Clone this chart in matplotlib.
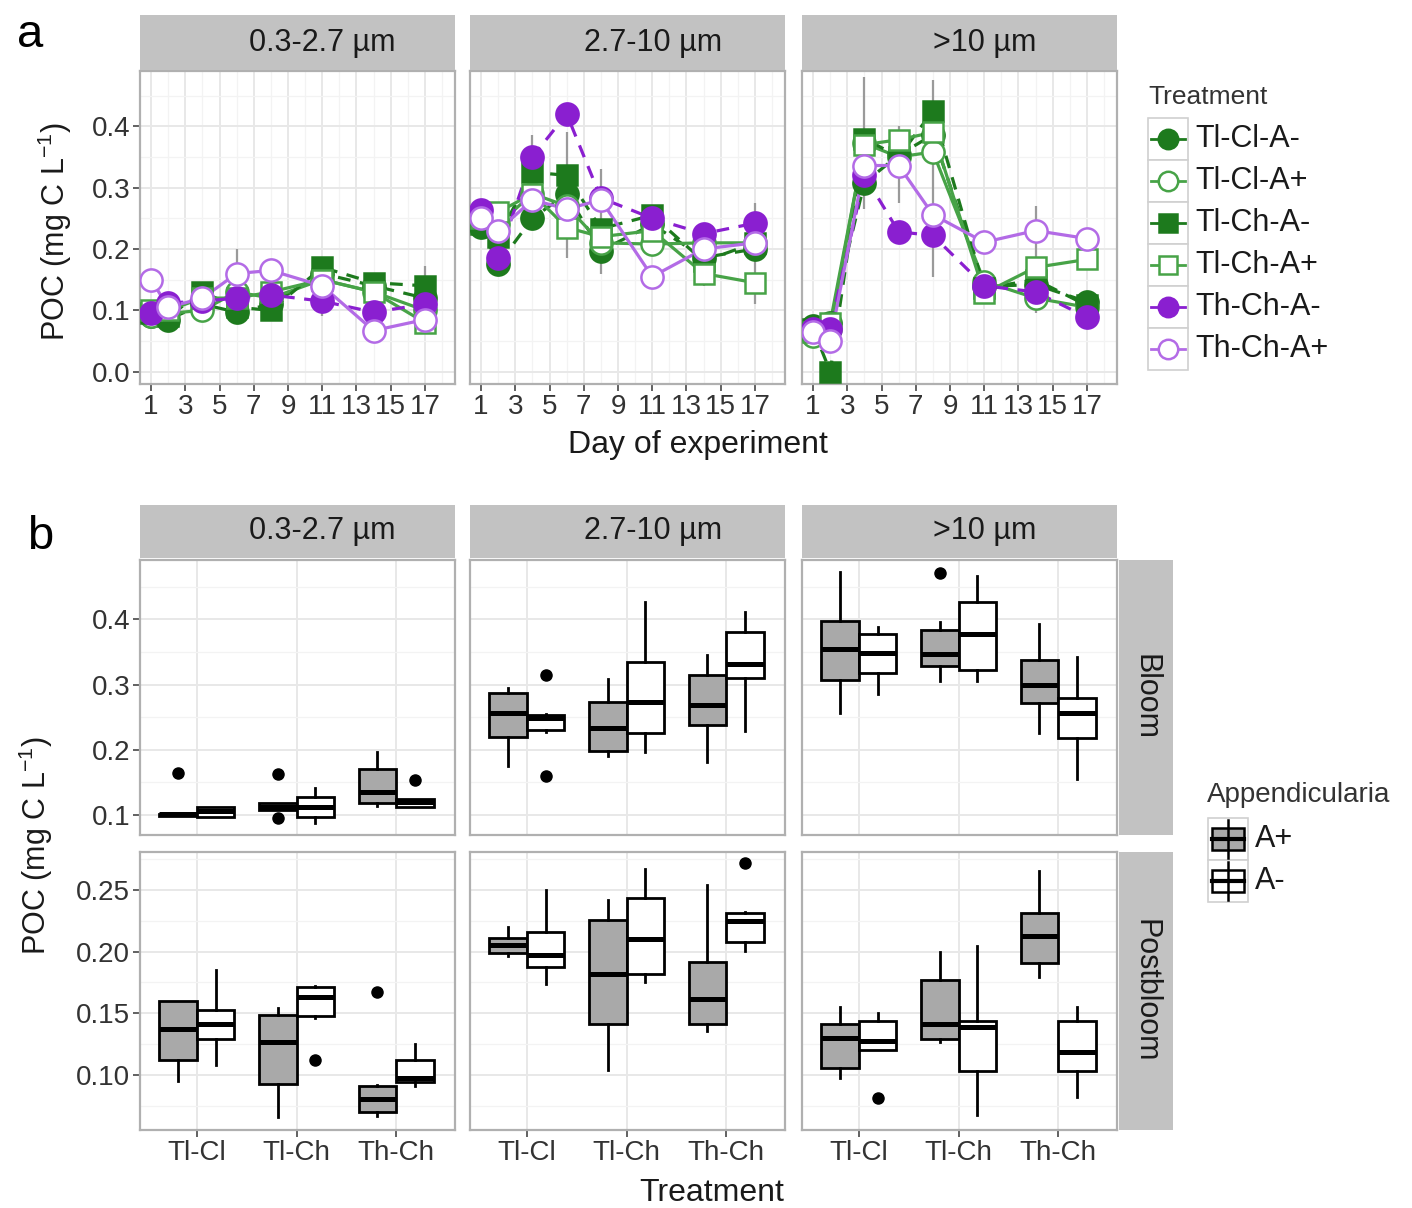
import matplotlib
matplotlib.use("Agg")
import matplotlib.pyplot as plt
from matplotlib.lines import Line2D
from matplotlib.patches import Rectangle

plt.rcParams["font.family"] = ["Liberation Sans", "DejaVu Sans"]

W, H = 1412, 1208

# ---- data -------------------------------------------------------------
SIZES = ["0.3-2.7 µm", "2.7-10 µm", ">10 µm"]
DAYS = [1, 2, 4, 6, 8, 11, 14, 17]
TREATMENTS = ["Tl-Cl-A-", "Tl-Cl-A+", "Tl-Ch-A-", "Tl-Ch-A+", "Th-Ch-A-", "Th-Ch-A+"]

# panel a: mean POC (mg C/L) by day, one dict per size fraction
POC_SMALL = {
    "Tl-Cl-A-": [0.090, 0.085, 0.110, 0.097, 0.110, 0.160, 0.140, 0.120],
    "Tl-Cl-A+": [0.090, 0.095, 0.100, 0.130, 0.120, 0.150, 0.130, 0.100],
    "Tl-Ch-A-": [0.095, 0.090, 0.130, 0.105, 0.100, 0.170, 0.145, 0.140],
    "Tl-Ch-A+": [0.100, 0.100, 0.120, 0.120, 0.130, 0.150, 0.130, 0.080],
    "Th-Ch-A-": [0.095, 0.112, 0.115, 0.120, 0.125, 0.115, 0.097, 0.110],
    "Th-Ch-A+": [0.150, 0.105, 0.120, 0.160, 0.165, 0.140, 0.067, 0.085],
}
POC_MID = {
    "Tl-Cl-A-": [0.236, 0.175, 0.250, 0.290, 0.197, 0.240, 0.186, 0.200],
    "Tl-Cl-A+": [0.250, 0.240, 0.290, 0.270, 0.210, 0.208, 0.210, 0.210],
    "Tl-Ch-A-": [0.240, 0.220, 0.325, 0.320, 0.233, 0.255, 0.180, 0.210],
    "Tl-Ch-A+": [0.250, 0.260, 0.290, 0.235, 0.220, 0.230, 0.160, 0.145],
    "Th-Ch-A-": [0.264, 0.186, 0.350, 0.420, 0.283, 0.250, 0.225, 0.242],
    "Th-Ch-A+": [0.250, 0.230, 0.280, 0.265, 0.280, 0.155, 0.200, 0.210],
}
POC_LARGE = {
    "Tl-Cl-A-": [0.075, 0.080, 0.308, 0.353, 0.386, 0.139, 0.142, 0.114],
    "Tl-Cl-A+": [0.058, 0.070, 0.372, 0.350, 0.358, 0.147, 0.120, 0.105],
    "Tl-Ch-A-": [0.070, 0.000, 0.380, 0.350, 0.425, 0.136, 0.150, 0.108],
    "Tl-Ch-A+": [0.065, 0.080, 0.370, 0.378, 0.390, 0.128, 0.170, 0.183],
    "Th-Ch-A-": [0.070, 0.070, 0.320, 0.228, 0.222, 0.140, 0.130, 0.089],
    "Th-Ch-A+": [0.065, 0.050, 0.336, 0.336, 0.256, 0.211, 0.230, 0.217],
}
# visible error bars: (facet, day, low, high)
ERRBARS_A = [
    (0, 6, 0.13, 0.20), (0, 11, 0.09, 0.13), (0, 17, 0.10, 0.172),
    (1, 4, 0.285, 0.385), (1, 6, 0.185, 0.39), (1, 8, 0.16, 0.33),
    (1, 14, 0.14, 0.17), (1, 17, 0.11, 0.275),
    (2, 4, 0.265, 0.48), (2, 6, 0.275, 0.40), (2, 8, 0.155, 0.475), (2, 14, 0.095, 0.27),
]

# panel b: boxplot stats, [row][size][box]; boxes ordered
# Tl-Cl A+, Tl-Cl A-, Tl-Ch A+, Tl-Ch A-, Th-Ch A+, Th-Ch A-
PHASES = ["Bloom", "Postbloom"]
GROUPS = ["Tl-Cl", "Tl-Ch", "Th-Ch"]
APPS = ["A+", "A-"]
MED = [
    [[0.101, 0.106, 0.113, 0.113, 0.136, 0.120],
     [0.257, 0.248, 0.233, 0.274, 0.268, 0.331],
     [0.355, 0.348, 0.347, 0.377, 0.300, 0.257]],
    [[0.137, 0.1415, 0.127, 0.163, 0.081, 0.0975],
     [0.205, 0.197, 0.182, 0.210, 0.162, 0.225],
     [0.130, 0.1274, 0.1415, 0.139, 0.2128, 0.1187]],
]
Q1 = [
    [[0.099, 0.097, 0.108, 0.097, 0.119, 0.113],
     [0.220, 0.230, 0.198, 0.226, 0.238, 0.310],
     [0.307, 0.317, 0.328, 0.323, 0.271, 0.218]],
    [[0.1125, 0.129, 0.093, 0.148, 0.070, 0.094],
     [0.199, 0.1876, 0.1415, 0.1816, 0.141, 0.2074],
     [0.106, 0.1206, 0.1296, 0.103, 0.1906, 0.103]],
]
Q3 = [
    [[0.102, 0.113, 0.118, 0.128, 0.170, 0.125],
     [0.287, 0.253, 0.274, 0.335, 0.315, 0.381],
     [0.397, 0.378, 0.383, 0.426, 0.338, 0.279]],
    [[0.160, 0.153, 0.149, 0.171, 0.091, 0.112],
     [0.211, 0.216, 0.2256, 0.2435, 0.1917, 0.231],
     [0.1415, 0.1437, 0.1768, 0.1437, 0.2313, 0.144]],
]
WLO = [
    [[0.099, 0.097, 0.108, 0.087, 0.114, 0.113],
     [0.175, 0.228, 0.190, 0.197, 0.181, 0.229],
     [0.257, 0.285, 0.305, 0.306, 0.225, 0.155]],
    [[0.095, 0.108, 0.066, 0.146, 0.067, 0.091],
     [0.1966, 0.174, 0.104, 0.175, 0.136, 0.2006],
     [0.0976, 0.1206, 0.1268, 0.0677, 0.1795, 0.0826]],
]
WHI = [
    [[0.102, 0.113, 0.118, 0.142, 0.197, 0.125],
     [0.295, 0.255, 0.308, 0.426, 0.346, 0.412],
     [0.473, 0.389, 0.396, 0.466, 0.393, 0.342]],
    [[0.160, 0.185, 0.154, 0.172, 0.092, 0.125],
     [0.220, 0.250, 0.242, 0.2666, 0.254, 0.232],
     [0.155, 0.150, 0.200, 0.2047, 0.265, 0.155]],
]
FLIERS = [
    [[[0.165], [], [0.163, 0.095], [], [], [0.153]],
     [[], [0.315, 0.160], [], [], [], []],
     [[], [], [0.471], [], [], []]],
    [[[], [], [], [0.1125], [0.1675], []],
     [[], [], [], [], [], [0.2717]],
     [[], [0.0818], [], [], [], []]],
]

# ---- styling ----------------------------------------------------------
GREEN, GREEN_L = "#1d7a1d", "#47a347"
PURPLE, PURPLE_L = "#8a1fd0", "#b36be6"
T_COLOR = [GREEN, GREEN_L, GREEN, GREEN_L, PURPLE, PURPLE_L]
T_MARKER = ["o", "o", "s", "s", "o", "o"]
T_FILLED = [True, False, True, False, True, False]
T_DASHED = [True, False, True, False, True, False]
STRIP = "#c2c2c2"
TXT = "#333333"
BOX_GREY = "#a9a9a9"

FACET_X = [(140, 455), (470, 785), (802, 1117)]


def px_rect(x0, y0, x1, y1):
    return [x0 / W, 1 - y1 / H, (x1 - x0) / W, (y1 - y0) / H]


def style_panel(ax):
    for s in ax.spines.values():
        s.set_color("#b0b0b0")
        s.set_linewidth(1.6)
    ax.grid(which="major", color="#e8e8e8", lw=1.4)
    ax.grid(which="minor", color="#f3f3f3", lw=0.9)
    ax.set_axisbelow(True)
    ax.tick_params(which="major", length=5, width=1.3, color="#555555",
                   labelsize=20, labelcolor=TXT, pad=2)
    ax.tick_params(which="minor", length=0)


def strip(rect, label, rotation=0):
    sa = fig.add_axes(rect)
    sa.set_facecolor(STRIP)
    sa.set_xticks([]); sa.set_yticks([])
    for s in sa.spines.values():
        s.set_visible(False)
    xpos = 0.58 if rotation == 0 else 0.5
    sa.text(xpos, 0.5, label, ha="center", va="center", fontsize=22,
            color="#1a1a1a", rotation=rotation, transform=sa.transAxes)


fig = plt.figure(figsize=(W / 100, H / 100), dpi=100)

# ---- panel a ----------------------------------------------------------
series_a = [POC_SMALL, POC_MID, POC_LARGE]
for k, (x0, x1) in enumerate(FACET_X):
    ax = fig.add_axes(px_rect(x0, 71, x1, 384))
    style_panel(ax)
    for f, day, lo, hi in ERRBARS_A:
        if f == k:
            ax.vlines(day, lo, hi, color="#9a9a9a", lw=1.6, zorder=2)
    data = series_a[k]
    for i, t in enumerate(TREATMENTS):
        ax.plot(DAYS, data[t], color=T_COLOR[i], lw=2.3, zorder=3,
                ls=(0, (4, 3)) if T_DASHED[i] else "-")
    for i, t in enumerate(TREATMENTS):
        ax.plot(DAYS, data[t], ls="none", marker=T_MARKER[i],
                ms=16 if T_MARKER[i] == "o" else 14.5,
                mfc=T_COLOR[i] if T_FILLED[i] else "white",
                mec=T_COLOR[i], mew=1.8, zorder=4)
    ax.set_xlim(0.35, 18.76)
    ax.set_ylim(-0.02, 0.49)
    ax.set_xticks(range(1, 18, 2))
    ax.set_xticks(range(2, 19, 2), minor=True)
    ax.set_yticks([0.0, 0.1, 0.2, 0.3, 0.4])
    ax.set_yticks([0.05, 0.15, 0.25, 0.35, 0.45], minor=True)
    if k == 0:
        ax.set_yticklabels(["0.0", "0.1", "0.2", "0.3", "0.4"])
    else:
        ax.tick_params(axis="y", which="both", left=False, labelleft=False)
    strip(px_rect(x0, 15, x1, 70), SIZES[k])

fig.text(698 / W, 1 - 445 / H, "Day of experiment", ha="center", va="center",
         fontsize=23, color="#1a1a1a")
fig.text(55 / W, 1 - 232 / H, r"POC (mg C L$^{\mathregular{-1}}$)", ha="center",
         va="center", rotation=90, fontsize=22, color="#1a1a1a")
fig.text(30 / W, 1 - 35 / H, "a", ha="center", va="center", fontsize=34)

# ---- panel b ----------------------------------------------------------
ROW_Y = [(560, 835), (852, 1130)]
ROW_LIM = [(0.0693, 0.491), (0.0555, 0.2807)]
ROW_TICKS = [[0.1, 0.2, 0.3, 0.4], [0.10, 0.15, 0.20, 0.25]]
ROW_MINOR = [[0.15, 0.25, 0.35, 0.45], [0.075, 0.125, 0.175, 0.225, 0.275]]
ROW_FMT = ["{:.1f}", "{:.2f}"]
positions = [c + off for c in (1, 2, 3) for off in (-0.1875, 0.1875)]

for r, (y0, y1) in enumerate(ROW_Y):
    for k, (x0, x1) in enumerate(FACET_X):
        ax = fig.add_axes(px_rect(x0, y0, x1, y1))
        style_panel(ax)
        stats = []
        for i in range(6):
            stats.append(dict(med=MED[r][k][i], q1=Q1[r][k][i], q3=Q3[r][k][i],
                              whislo=WLO[r][k][i], whishi=WHI[r][k][i],
                              fliers=FLIERS[r][k][i]))
        bp = ax.bxp(stats, positions=positions, widths=0.375, patch_artist=True,
                    showcaps=False, manage_ticks=False,
                    boxprops=dict(linewidth=2.0, edgecolor="black"),
                    medianprops=dict(color="black", linewidth=3.6),
                    whiskerprops=dict(color="black", linewidth=2.0),
                    flierprops=dict(marker="o", markerfacecolor="black",
                                    markeredgecolor="black", markersize=8))
        for j, patch in enumerate(bp["boxes"]):
            patch.set_facecolor(BOX_GREY if j % 2 == 0 else "white")
        ax.set_xlim(0.43, 3.59)
        ax.set_ylim(*ROW_LIM[r])
        ax.set_xticks([1, 2, 3])
        ax.set_yticks(ROW_TICKS[r])
        ax.set_yticks(ROW_MINOR[r], minor=True)
        if r == 1:
            ax.set_xticklabels(GROUPS)
        else:
            ax.tick_params(axis="x", which="both", bottom=False, labelbottom=False)
        if k == 0:
            ax.set_yticklabels([ROW_FMT[r].format(v) for v in ROW_TICKS[r]])
        else:
            ax.tick_params(axis="y", which="both", left=False, labelleft=False)
        if r == 0:
            strip(px_rect(x0, 505, x1, 558), SIZES[k])
    strip(px_rect(1119, y0, 1173, y1), PHASES[r], rotation=270)

fig.text(712 / W, 1 - 1193 / H, "Treatment", ha="center", va="center",
         fontsize=23, color="#1a1a1a")
fig.text(36 / W, 1 - 846 / H, r"POC (mg C L$^{\mathregular{-1}}$)", ha="center",
         va="center", rotation=90, fontsize=22, color="#1a1a1a")
fig.text(40 / W, 1 - 537 / H, "b", ha="center", va="center", fontsize=34)

# ---- legends (drawn in pixel space) ------------------------------------
lg = fig.add_axes([0, 0, 1, 1])
lg.set_xlim(0, W)
lg.set_ylim(H, 0)
lg.axis("off")

lg.text(1148, 97, "Treatment", ha="left", va="center", fontsize=19, color=TXT)
for i, t in enumerate(TREATMENTS):
    yc = 139 + 42 * i
    lg.add_patch(Rectangle((1148, yc - 21), 40, 42, facecolor="white",
                           edgecolor="#d0d0d0", lw=1.2))
    lg.add_line(Line2D([1151, 1185], [yc, yc], color=T_COLOR[i], lw=2.0))
    lg.plot([1168], [yc], marker=T_MARKER[i],
            ms=14 if T_MARKER[i] == "o" else 12.5,
            mfc=T_COLOR[i] if T_FILLED[i] else "white", mec=T_COLOR[i], mew=1.8)
    lg.text(1195, yc, t, ha="left", va="center", fontsize=22, color="#1a1a1a")

lg.text(1207, 795, "Appendicularia", ha="left", va="center", fontsize=20, color=TXT)
for i, a in enumerate(APPS):
    yc = 839 + 42 * i
    lg.add_patch(Rectangle((1208, yc - 21), 40, 42, facecolor="white",
                           edgecolor="#d0d0d0", lw=1.2))
    lg.add_line(Line2D([1228, 1228], [yc - 19, yc + 19], color="black", lw=1.8))
    lg.add_patch(Rectangle((1212, yc - 11), 32, 22,
                           facecolor=BOX_GREY if i == 0 else "white",
                           edgecolor="black", lw=1.8))
    lg.add_line(Line2D([1212, 1244], [yc, yc], color="black", lw=3))
    lg.text(1255, yc, a, ha="left", va="center", fontsize=22, color="#1a1a1a")

fig.savefig("out.png", dpi=100)
